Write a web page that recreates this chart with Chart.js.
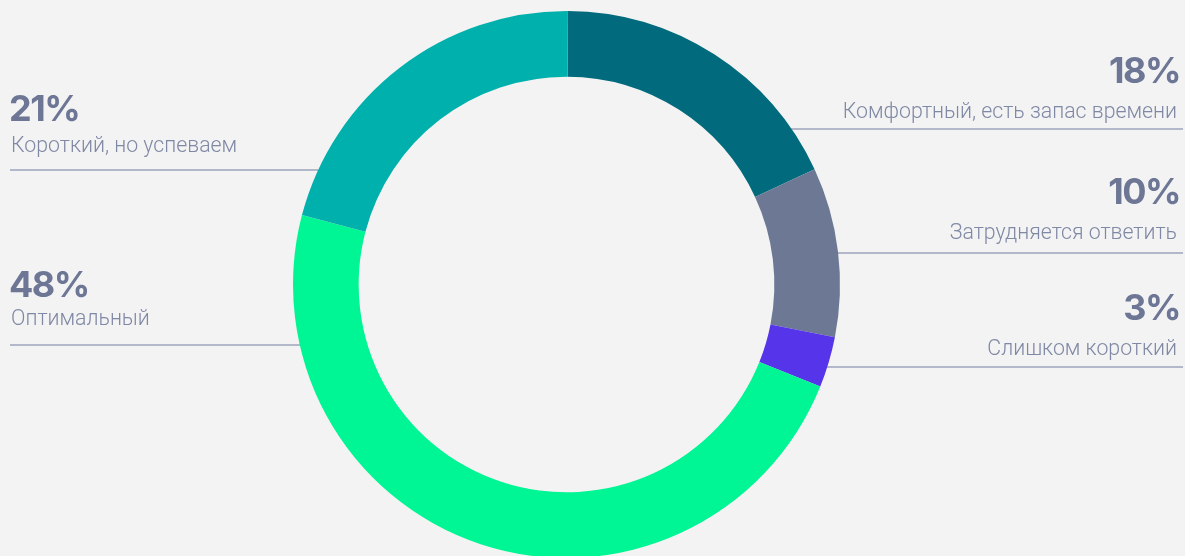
<!DOCTYPE html>
<html>
<head>
<meta charset="utf-8">
<script src="https://cdn.jsdelivr.net/npm/chart.js@4/dist/chart.umd.min.js"></script>
<style>
  html, body { margin: 0; padding: 0; background: #f3f3f3; overflow: hidden; }
  #wrap { position: absolute; left: 0; top: 0; width: 1185px; height: 560px; }
</style>
</head>
<body>
<div id="wrap"><canvas id="c" width="1185" height="560"></canvas></div>
<script>
// ---- data ----
const categories = [
  'Комфортный, есть запас времени',
  'Затрудняется ответить',
  'Слишком короткий',
  'Оптимальный',
  'Короткий, но успеваем'
];
const values = [18, 10, 3, 48, 21];
const colors = ['#016a7c', '#6c7894', '#5634ea', '#00f594', '#00b0ac'];

// ---- label layout (positions only) ----
const labelLayout = [
  { side: 'right', pctY: 83,  textY: 118, lineY: 129 },
  { side: 'right', pctY: 204, textY: 239, lineY: 253 },
  { side: 'right', pctY: 320, textY: 355, lineY: 367 },
  { side: 'left',  pctY: 297, textY: 325, lineY: 345 },
  { side: 'left',  pctY: 121, textY: 152, lineY: 170 }
];

const labelsPlugin = {
  id: 'sideLabels',
  beforeDatasetsDraw(chart) {
    const ctx = chart.ctx;
    const arc = chart.getDatasetMeta(0).data[0];
    const cx = arc.x, cy = arc.y, R = arc.outerRadius;
    ctx.save();
    labelLayout.forEach((L, i) => {
      const dy = L.lineY - cy;
      const dx = Math.sqrt(Math.max(R * R - dy * dy, 0)) - 2;
      // line
      ctx.strokeStyle = '#9ca5bb';
      ctx.lineWidth = 1.5;
      ctx.beginPath();
      if (L.side === 'left') { ctx.moveTo(10, L.lineY); ctx.lineTo(cx - dx, L.lineY); }
      else { ctx.moveTo(cx + dx, L.lineY); ctx.lineTo(1183, L.lineY); }
      ctx.stroke();
      // percent
      ctx.fillStyle = '#6d7795';
      ctx.font = '700 36px Inter, "DejaVu Sans", sans-serif';
      ctx.letterSpacing = '-1.5px';
      ctx.textBaseline = 'alphabetic';
      ctx.textAlign = L.side === 'left' ? 'left' : 'right';
      ctx.fillText(values[i] + '%', L.side === 'left' ? 9 : 1180, L.pctY);
      // category
      ctx.letterSpacing = '0px';
      ctx.fillStyle = '#7f88a4';
      ctx.font = '300 21.3px Roboto, "Open Sans", sans-serif';
      ctx.fillText(categories[i], L.side === 'left' ? 11 : 1177, L.textY);
    });
    ctx.restore();
  }
};

new Chart(document.getElementById('c'), {
  type: 'doughnut',
  data: {
    labels: categories,
    datasets: [{
      data: values,
      backgroundColor: colors,
      borderWidth: 0,
      hoverBorderWidth: 0,
      hoverOffset: 0,
      offset: 0
    }]
  },
  options: {
    responsive: false,
    devicePixelRatio: 1,
    animation: false,
    cutout: '76%',
    rotation: 0.3,
    layout: { padding: { left: 293, right: 345, top: 11, bottom: 2 } },
    plugins: { legend: { display: false }, tooltip: { enabled: false } },
    events: []
  },
  plugins: [labelsPlugin]
});
</script>
</body>
</html>
